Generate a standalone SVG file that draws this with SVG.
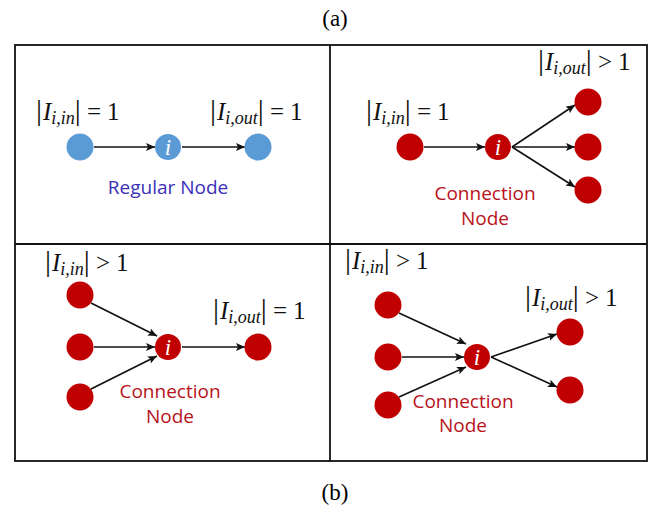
<svg xmlns="http://www.w3.org/2000/svg" width="657" height="514" viewBox="0 0 657 514">
<defs>
<style>
.cap{font-family:"Liberation Serif",serif;font-size:23px;fill:#000;text-anchor:middle}
.m{font-family:"Liberation Serif",serif;font-size:25px;fill:#111}
.bar{font-size:30px}
.it{font-style:italic}
.sub{font-style:italic;font-size:18px}
.lbl{font-family:"Open Sans","Liberation Sans",sans-serif;font-size:19px;text-anchor:middle}
.blue{fill:#3a2fb8}
.red{fill:#b8121b}
.nb{fill:#5b9bd5}
.nr{fill:#c00000}
.ni{font-family:"Liberation Serif",serif;font-style:italic;font-size:23px;fill:#fff;text-anchor:middle}
.e{stroke:#111;stroke-width:1.6;fill:none;marker-end:url(#ah)}
.frame{fill:#fff;stroke:#111;stroke-width:1.8}
</style>
<marker id="ah" markerUnits="userSpaceOnUse" markerWidth="10" markerHeight="10" refX="9" refY="4" orient="auto">
<path d="M0,0 L9,4 L0,8 L2,4 Z" fill="#111"/>
</marker>
</defs>
<rect width="657" height="514" fill="#fff"/>
<text class="cap" x="335" y="26">(a)</text>
<text class="cap" x="335" y="500">(b)</text>
<g id="frame">
<rect class="frame" x="15" y="45" width="632" height="416"/>
<line x1="330" y1="45" x2="330" y2="461" stroke="#111" stroke-width="1.8"/>
<line x1="15" y1="244" x2="647" y2="244" stroke="#111" stroke-width="1.8"/>
</g>
<g id="connectors">
<line class="e" x1="94" y1="147" x2="155" y2="147"/>
<line class="e" x1="182" y1="147" x2="245" y2="147"/>
<line class="e" x1="424" y1="147" x2="485" y2="147"/>
<line class="e" x1="512" y1="147" x2="575" y2="105"/>
<line class="e" x1="512" y1="147" x2="575" y2="147"/>
<line class="e" x1="512" y1="147" x2="575" y2="187"/>
<line class="e" x1="91" y1="303" x2="157" y2="336"/>
<line class="e" x1="94" y1="347" x2="155" y2="347"/>
<line class="e" x1="91" y1="389" x2="157" y2="356"/>
<line class="e" x1="182" y1="347" x2="245" y2="347"/>
<line class="e" x1="399" y1="313" x2="466" y2="344"/>
<line class="e" x1="402" y1="357" x2="464" y2="357"/>
<line class="e" x1="399" y1="397" x2="466" y2="367"/>
<line class="e" x1="491" y1="357" x2="557" y2="334"/>
<line class="e" x1="491" y1="357" x2="557" y2="387"/>
</g>
<g id="q1">
<text class="m" x="36" y="120"><tspan class="bar">|</tspan><tspan class="it" dx="1">I</tspan><tspan class="sub" dy="4">i,in</tspan><tspan class="bar" dy="-4">|</tspan><tspan dx="6">=</tspan><tspan dx="6">1</tspan></text>
<text class="m" x="210" y="120"><tspan class="bar">|</tspan><tspan class="it" dx="1">I</tspan><tspan class="sub" dy="4">i,out</tspan><tspan class="bar" dy="-4">|</tspan><tspan dx="6">=</tspan><tspan dx="6">1</tspan></text>
<g id="q1-in"><circle class="nb" cx="80" cy="147" r="13.5"/></g>
<g id="q1-i"><circle class="nb" cx="168" cy="147" r="13"/><text class="ni" x="168" y="155">i</text></g>
<g id="q1-out"><circle class="nb" cx="258" cy="147" r="13.5"/></g>
<text class="lbl blue" x="168" y="194">Regular Node</text>
</g>
<g id="q2">
<text class="m" x="366" y="120"><tspan class="bar">|</tspan><tspan class="it" dx="1">I</tspan><tspan class="sub" dy="4">i,in</tspan><tspan class="bar" dy="-4">|</tspan><tspan dx="6">=</tspan><tspan dx="6">1</tspan></text>
<text class="m" x="538" y="70"><tspan class="bar">|</tspan><tspan class="it" dx="1">I</tspan><tspan class="sub" dy="4">i,out</tspan><tspan class="bar" dy="-4">|</tspan><tspan dx="6">&gt;</tspan><tspan dx="6">1</tspan></text>
<g id="q2-in"><circle class="nr" cx="410" cy="147" r="13.5"/></g>
<g id="q2-i"><circle class="nr" cx="498" cy="147" r="13"/><text class="ni" x="498" y="155">i</text></g>
<g id="q2-out1"><circle class="nr" cx="588" cy="102" r="13.5"/></g>
<g id="q2-out2"><circle class="nr" cx="588" cy="147" r="13.5"/></g>
<g id="q2-out3"><circle class="nr" cx="588" cy="190" r="13.5"/></g>
<text class="lbl red" x="485" y="200">Connection</text>
<text class="lbl red" x="485" y="225">Node</text>
</g>
<g id="q3">
<text class="m" x="45" y="271"><tspan class="bar">|</tspan><tspan class="it" dx="1">I</tspan><tspan class="sub" dy="4">i,in</tspan><tspan class="bar" dy="-4">|</tspan><tspan dx="6">&gt;</tspan><tspan dx="6">1</tspan></text>
<text class="m" x="213" y="319"><tspan class="bar">|</tspan><tspan class="it" dx="1">I</tspan><tspan class="sub" dy="4">i,out</tspan><tspan class="bar" dy="-4">|</tspan><tspan dx="6">=</tspan><tspan dx="6">1</tspan></text>
<g id="q3-in1"><circle class="nr" cx="80" cy="295" r="13.5"/></g>
<g id="q3-in2"><circle class="nr" cx="80" cy="347" r="13.5"/></g>
<g id="q3-in3"><circle class="nr" cx="80" cy="397" r="13.5"/></g>
<g id="q3-i"><circle class="nr" cx="168" cy="347" r="13"/><text class="ni" x="168" y="355">i</text></g>
<g id="q3-out"><circle class="nr" cx="258" cy="347" r="13.5"/></g>
<text class="lbl red" x="170" y="398">Connection</text>
<text class="lbl red" x="170" y="423">Node</text>
</g>
<g id="q4">
<text class="m" x="345" y="269"><tspan class="bar">|</tspan><tspan class="it" dx="1">I</tspan><tspan class="sub" dy="4">i,in</tspan><tspan class="bar" dy="-4">|</tspan><tspan dx="6">&gt;</tspan><tspan dx="6">1</tspan></text>
<text class="m" x="525" y="306"><tspan class="bar">|</tspan><tspan class="it" dx="1">I</tspan><tspan class="sub" dy="4">i,out</tspan><tspan class="bar" dy="-4">|</tspan><tspan dx="6">&gt;</tspan><tspan dx="6">1</tspan></text>
<g id="q4-in1"><circle class="nr" cx="388" cy="305" r="13.5"/></g>
<g id="q4-in2"><circle class="nr" cx="388" cy="357" r="13.5"/></g>
<g id="q4-in3"><circle class="nr" cx="388" cy="405" r="13.5"/></g>
<g id="q4-i"><circle class="nr" cx="477" cy="357" r="13"/><text class="ni" x="477" y="365">i</text></g>
<g id="q4-out1"><circle class="nr" cx="570" cy="332" r="13.5"/></g>
<g id="q4-out2"><circle class="nr" cx="570" cy="390" r="13.5"/></g>
<text class="lbl red" x="463" y="408">Connection</text>
<text class="lbl red" x="463" y="432">Node</text>
</g>
</svg>
